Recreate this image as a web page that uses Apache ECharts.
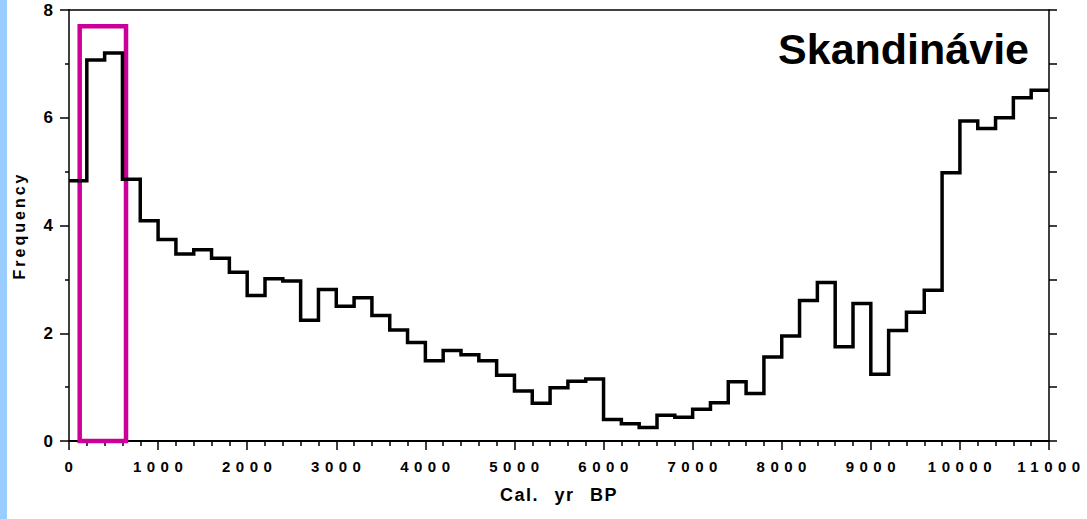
<!DOCTYPE html>
<html>
<head>
<meta charset="utf-8">
<script src="https://cdn.jsdelivr.net/npm/echarts@6/dist/echarts.min.js"></script>
<style>
  html, body { margin: 0; padding: 0; background: #fff; }
  #main { width: 1087px; height: 519px; }
  /* spaced-out lettering of the scanned figure */
  #main svg text[style*="15px"] { letter-spacing: 5.5px; }
  #main svg text[style*="16px"] { letter-spacing: 3px; }
  #main svg text[style*="18px"] { letter-spacing: 1.5px; word-spacing: 9px; }
</style>
</head>
<body>
<div id="main"></div>
<script>
// bin edges (Cal. yr BP) and frequency per 200-yr bin
var binEdges = [0, 200, 400, 600, 800, 1000, 1200, 1400, 1600, 1800,
  2000, 2200, 2400, 2600, 2800, 3000, 3200, 3400, 3600, 3800,
  4000, 4200, 4400, 4600, 4800, 5000, 5200, 5400, 5600, 5800,
  6000, 6200, 6400, 6600, 6800, 7000, 7200, 7400, 7600, 7800,
  8000, 8200, 8400, 8600, 8800, 9000, 9200, 9400, 9600, 9800,
  10000, 10200, 10400, 10600, 10800, 11000];
var frequency = [4.83, 7.07, 7.20, 4.86, 4.09, 3.74, 3.47, 3.55, 3.39, 3.13,
  2.70, 3.01, 2.97, 2.24, 2.81, 2.50, 2.66, 2.33, 2.06, 1.83,
  1.49, 1.68, 1.60, 1.49, 1.22, 0.93, 0.70, 0.99, 1.11, 1.15,
  0.40, 0.32, 0.25, 0.48, 0.44, 0.59, 0.71, 1.10, 0.88, 1.56,
  1.95, 2.61, 2.94, 1.75, 2.55, 1.24, 2.05, 2.39, 2.80, 4.98,
  5.94, 5.80, 6.00, 6.37, 6.51];
// highlighted period (magenta box)
var boxRange = [[120, 0], [640, 7.7]];

var chartTitle = 'Skandinávie';
var xName = 'Cal. yr BP';
var yName = 'Frequency';

// each bin value holds until the next edge; last one closes at the final edge
var stepData = binEdges.map(function (e, i) {
  return [e, frequency[Math.min(i, frequency.length - 1)]];
});

var myChart = echarts.init(document.getElementById('main'), null, { renderer: 'svg' });

var labelFont = 'Liberation Sans';

var option = {
  animation: false,
  backgroundColor: '#fff',
  graphic: [{
    type: 'rect',
    left: 0, top: 0,
    shape: { width: 7, height: 519 },
    style: { fill: '#99ccff' },
    silent: true
  }],
  title: {
    text: chartTitle,
    right: 58,
    top: 27,
    padding: 0,
    textStyle: { fontFamily: 'Arial', fontWeight: 'bold', fontSize: 43, color: '#000' }
  },
  grid: { left: 69, right: 38, top: 10, bottom: 78 },
  xAxis: [{
    type: 'value',
    position: 'bottom',
    min: 0, max: 11000, interval: 1000,
    name: xName,
    nameLocation: 'middle',
    nameGap: 45,
    nameTextStyle: { fontFamily: labelFont, fontWeight: 'bold', fontSize: 18, color: '#000' },
    axisLine: { show: true, onZero: false, lineStyle: { color: '#000', width: 2 } },
    axisTick: { show: true, length: 9, lineStyle: { color: '#000', width: 1.5 } },
    minorTick: { show: true, splitNumber: 5, length: 5, lineStyle: { color: '#000', width: 1.5 } },
    axisLabel: {
      margin: 18, fontFamily: labelFont, fontWeight: 'bold', fontSize: 15, color: '#000',
      padding: [0, 0, 0, 5],
      formatter: function (v) { return String(v); }
    },
    splitLine: { show: false }
  }, {
    type: 'value',
    position: 'top',
    min: 0, max: 11000,
    axisLine: { show: true, onZero: false, lineStyle: { color: '#000', width: 1.5 } },
    axisTick: { show: false },
    axisLabel: { show: false },
    splitLine: { show: false }
  }],
  yAxis: [{
    type: 'value',
    position: 'left',
    min: 0, max: 8, interval: 2,
    name: yName,
    nameLocation: 'middle',
    nameGap: 42,
    nameTextStyle: { fontFamily: labelFont, fontWeight: 'bold', fontSize: 16, color: '#000' },
    axisLine: { show: true, onZero: false, lineStyle: { color: '#000', width: 1.5 } },
    axisTick: { show: true, length: 9, lineStyle: { color: '#000', width: 1.5 } },
    minorTick: { show: true, splitNumber: 2, length: 4, lineStyle: { color: '#000', width: 1.5 } },
    axisLabel: { margin: 16, fontFamily: labelFont, fontWeight: 'bold', fontSize: 17, color: '#000' },
    splitLine: { show: false }
  }, {
    type: 'value',
    position: 'right',
    min: 0, max: 8, interval: 1,
    axisLine: { show: true, onZero: false, lineStyle: { color: '#000', width: 1.5 } },
    axisTick: { show: true, length: 8, lineStyle: { color: '#000', width: 1.5 } },
    axisLabel: { show: false },
    splitLine: { show: false }
  }],
  series: [{
    name: yName,
    type: 'line',
    step: 'end',
    xAxisIndex: 0,
    yAxisIndex: 0,
    data: stepData,
    symbol: 'none',
    lineStyle: { color: '#000', width: 3.5, join: 'miter' },
    markArea: {
      silent: true,
      itemStyle: { color: 'rgba(0,0,0,0)', borderColor: '#cc0099', borderWidth: 4.5 },
      data: [[{ coord: boxRange[0] }, { coord: boxRange[1] }]]
    }
  }]
};

myChart.setOption(option);
</script>
</body>
</html>
